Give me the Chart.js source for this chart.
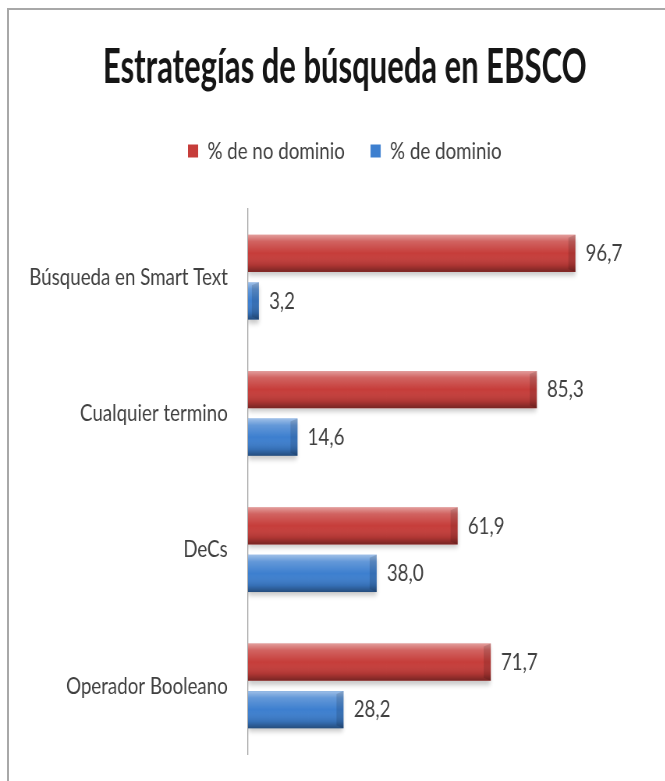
<!DOCTYPE html>
<html>
<head>
<meta charset="utf-8">
<script src="https://cdn.jsdelivr.net/npm/chart.js@4.4.1/dist/chart.umd.min.js"></script>
<style>
  html, body { margin: 0; padding: 0; background: #fff; }
  #frame { position: relative; width: 665px; height: 781px; overflow: hidden; }
  #edge { position: absolute; left: 7px; top: 8px; right: -10px; bottom: -10px;
          border-left: 2px solid #a8a8a8; border-top: 2px solid #a8a8a8; }
  #wrap { position: absolute; left: 0; top: 0; width: 853px; height: 781px;
          transform: scaleX(0.78); transform-origin: 0 0; }
</style>
</head>
<body>
<div id="frame">
  <div id="edge"></div>
  <div id="wrap"><canvas id="barChart" width="853" height="781"></canvas></div>
</div>
<script>
const categorias = ["Búsqueda en Smart Text", "Cualquier termino", "DeCs", "Operador Booleano"];
const noDominio = [96.7, 85.3, 61.9, 71.7];
const dominio = [3.2, 14.6, 38.0, 28.2];
const rojo = '#c63d3a';
const azul = '#3d7fcf';

// sombra debajo de las barras
const sombraPlugin = {
  id: 'sombra',
  beforeDatasetsDraw(chart) {
    const ctx = chart.ctx;
    ctx.save();
    ctx.shadowColor = 'rgba(0,0,0,0.22)';
    ctx.shadowBlur = 5;
    ctx.shadowOffsetY = 4;
  },
  afterDatasetsDraw(chart) {
    chart.ctx.restore();
  }
};

// brillo 3D y valores
const brilloPlugin = {
  id: 'brillo',
  afterDatasetsDraw(chart) {
    const ctx = chart.ctx;
    chart.data.datasets.forEach((ds, i) => {
      const meta = chart.getDatasetMeta(i);
      meta.data.forEach((bar, j) => {
        const top = bar.y - bar.height / 2;
        const h = bar.height;
        const left = bar.base;
        const w = bar.x - bar.base;
        const g = ctx.createLinearGradient(0, top, 0, top + h);
        g.addColorStop(0, 'rgba(255,255,255,0.5)');
        g.addColorStop(0.18, 'rgba(255,255,255,0.2)');
        g.addColorStop(0.5, 'rgba(255,255,255,0)');
        g.addColorStop(0.82, 'rgba(0,0,0,0.12)');
        g.addColorStop(1, 'rgba(0,0,0,0.4)');
        ctx.fillStyle = g;
        ctx.fillRect(left, top, w, h);
        // bisel al final
        const b = Math.min(9, w);
        ctx.fillStyle = 'rgba(0,0,0,0.13)';
        ctx.beginPath();
        ctx.moveTo(bar.x - b, top + 3);
        ctx.lineTo(bar.x, top);
        ctx.lineTo(bar.x, top + h);
        ctx.lineTo(bar.x - b, top + h - 3);
        ctx.closePath();
        ctx.fill();

        ctx.fillStyle = '#404040';
        ctx.font = '24px Lato';
        ctx.textAlign = 'left';
        ctx.textBaseline = 'middle';
        ctx.fillText(ds.data[j].toFixed(1).replace('.', ','), bar.x + 13, bar.y);
      });
    });
  }
};

// espacio extra debajo de la leyenda; etiquetas del eje sin recorte
const leyendaPlugin = {
  id: 'leyendaAlto',
  beforeInit(chart) {
    const fit = chart.legend.fit;
    chart.legend.fit = function () {
      fit.bind(chart.legend)();
      this.height += 36;
    };
  },
  afterLayout(chart) {
    chart.scales.y.left = 0;
  }
};

const ctx = document.getElementById('barChart').getContext('2d');
const barChart = new Chart(ctx, {
  type: 'bar',
  data: {
    labels: categorias,
    datasets: [
      { label: '% de no dominio', data: noDominio, backgroundColor: rojo, borderWidth: 0 },
      { label: '% de dominio', data: dominio, backgroundColor: azul, borderWidth: 0 }
    ]
  },
  options: {
    indexAxis: 'y',
    responsive: false,
    animation: false,
    devicePixelRatio: 1,
    categoryPercentage: 0.70,
    barPercentage: 0.78,
    layout: { padding: { top: 40, right: 101, bottom: 27, left: 132 } },
    scales: {
      x: { display: false, min: 0, max: 100 },
      y: {
        afterFit(scale) {
          scale.width = 186;
          scale.paddingTop = 0;
          scale.paddingBottom = 0;
        },
        grid: { display: false, drawTicks: false },
        border: { display: true, color: '#a0a0a0', width: 1.3 },
        ticks: { padding: 26, color: '#404040', font: { family: 'Lato', size: 24 } }
      }
    },
    plugins: {
      title: {
        display: true,
        text: 'Estrategías de búsqueda en EBSCO',
        color: '#151515',
        font: { family: 'Lato', size: 47, weight: 'bold' },
        padding: { top: 0, bottom: 9.6 }
      },
      legend: {
        display: true,
        position: 'top',
        labels: {
          boxWidth: 13,
          boxHeight: 13,
          padding: 33,
          color: '#404040',
          font: { family: 'Lato', size: 24 }
        }
      },
      tooltip: { enabled: false }
    }
  },
  plugins: [sombraPlugin, brilloPlugin, leyendaPlugin]
});
</script>
</body>
</html>
